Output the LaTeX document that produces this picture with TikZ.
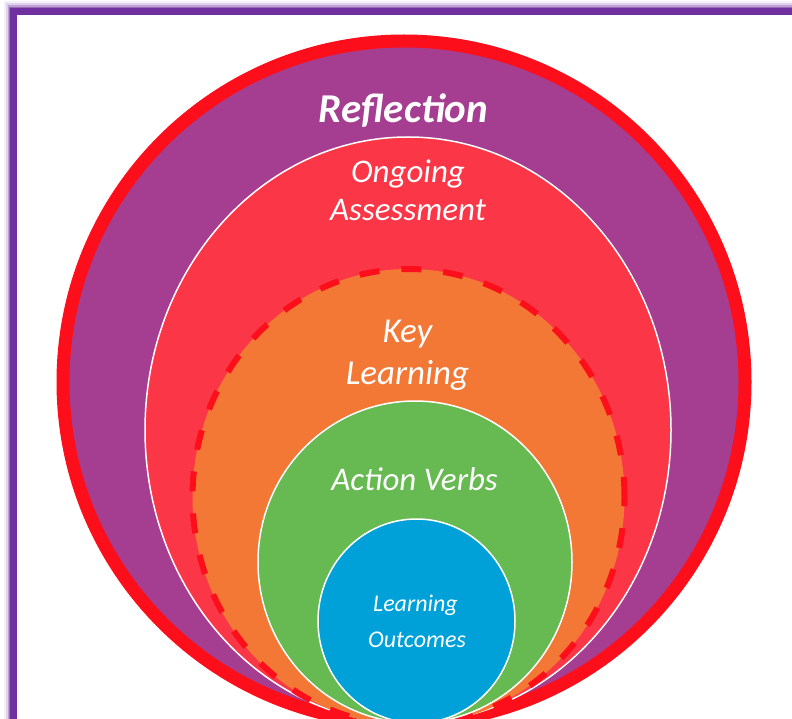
\documentclass[tikz,border=0pt]{standalone}
\usepackage{fontspec}
\setmainfont{Carlito}
\definecolor{framepurple}{RGB}{112, 48, 160}
\definecolor{reflect}{RGB}{165, 61, 145}
\definecolor{ringred}{RGB}{253, 14, 27}
\definecolor{assess}{RGB}{251, 54, 70}
\definecolor{keylearn}{RGB}{244, 120, 53}
\definecolor{verbs}{RGB}{103, 186, 82}
\definecolor{outcome}{RGB}{0, 161, 216}

\begin{document}
\begin{tikzpicture}[x=1pt, y=-1pt,
	ringtext/.style={text=white, anchor=base, inner sep=0pt, font=\itshape\fontsize{#1}{#1}\selectfont}]
		\useasboundingbox (0,0) rectangle (792,719);

		% frame with a soft edge
		\foreach \w/\o in {20/0.08, 16/0.15, 12/0.3, 9/0.5}
			\draw[framepurple, line width=\w pt, opacity=\o] (13.5,11.5) rectangle (900,900);
		\fill[white] (17,15) rectangle (900,900);
		\draw[framepurple, line width=7pt] (13.5,11.5) rectangle (900,900);

		\fill[reflect] (404,382) ellipse [x radius=341pt, y radius=341pt];
		\draw[ringred, line width=13pt] (404,382) ellipse [x radius=341pt, y radius=341pt];

		\fill[assess] (408,430) ellipse [x radius=263pt, y radius=293pt];
		\draw[white, line width=1.5pt] (408,430) ellipse [x radius=263pt, y radius=293pt];

		\fill[keylearn] (408.5,497) ellipse [x radius=216pt, y radius=228pt];
		\draw[ringred, line width=6pt, dash pattern=on 20pt off 22pt] (408.5,497) ellipse [x radius=216pt, y radius=228pt];

		\fill[verbs] (415,562) ellipse [x radius=157pt, y radius=161pt];
		\draw[white, line width=1.5pt] (415,562) ellipse [x radius=157pt, y radius=161pt];

		\fill[outcome] (416.5,621) ellipse [x radius=98.5pt, y radius=102pt];
		\draw[white, line width=1.5pt] (416.5,621) ellipse [x radius=98.5pt, y radius=102pt];

		\node[ringtext=41] (reflection) at (403.5,123) {\bfseries Reflection};
		\node[ringtext=33] (ongoing) at (408,183) {Ongoing};
		\node[ringtext=33] (assessment) at (408,221) {Assessment};
		\node[ringtext=35] (key) at (407.5,342) {Key};
		\node[ringtext=35] (learning) at (407.5,384) {Learning};
		\node[ringtext=33] (actionverbs) at (414.5,490) {Action Verbs};
		\node[ringtext=24] (learnout) at (415.5,611) {Learning};
		\node[ringtext=24] (outcomes) at (417,647) {Outcomes};
	\end{tikzpicture}
\end{document}
